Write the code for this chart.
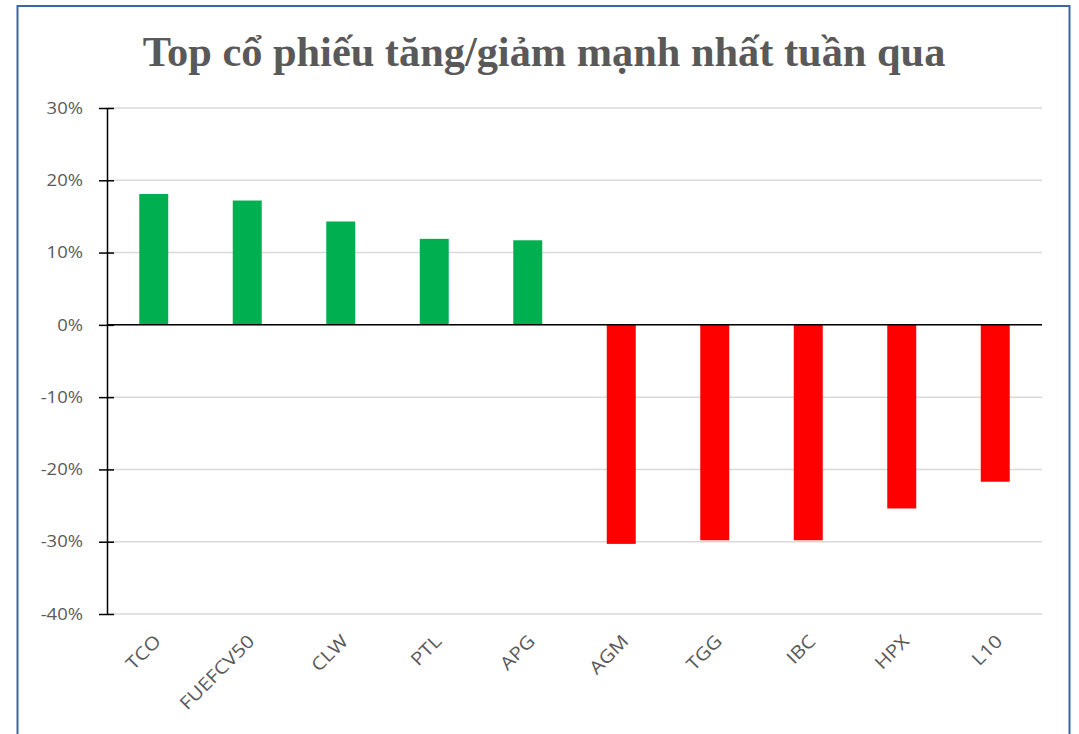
<!DOCTYPE html>
<html>
<head>
<meta charset="utf-8">
<script src="https://cdn.jsdelivr.net/npm/d3@7"></script>
<style>
  body { margin: 0; background: #fff; }
  svg { display: block; }
</style>
</head>
<body>
<div id="chart"></div>
<script>
const title = "Top cổ phiếu tăng/giảm mạnh nhất tuần qua";
const tickers = ["TCO", "FUEFCV50", "CLW", "PTL", "APG", "AGM", "TGG", "IBC", "HPX", "L10"];
const changes = [0.181, 0.172, 0.143, 0.119, 0.117, -0.303, -0.298, -0.298, -0.254, -0.217];
const yTicks = [0.3, 0.2, 0.1, 0, -0.1, -0.2, -0.3, -0.4];

const width = 1079;
const height = 734;
const margin = { top: 108, right: 37, bottom: 120, left: 107 };
// the sans labels in the picture are wide, so stretch them a bit
const yStretch = 1.12;
const xStretch = 1.15;

const svg = d3
  .select("#chart")
  .append("svg")
  .attr("width", width)
  .attr("height", height);

// frame around the chart
svg
  .append("rect")
  .attr("x", 17.5)
  .attr("y", 6)
  .attr("width", 1052)
  .attr("height", 740)
  .attr("fill", "none")
  .attr("stroke", "#3c66a3")
  .attr("stroke-width", 2);

const x = d3
  .scaleBand()
  .domain(tickers)
  .range([margin.left, width - margin.right])
  .paddingInner(0.69)
  .paddingOuter(0.345);

const y = d3
  .scaleLinear()
  .domain([-0.4, 0.3])
  .range([614, 108]);

// title, fitted to the width it takes in the picture
const titleText = svg
  .append("text")
  .attr("x", 544)
  .attr("y", 66)
  .attr("text-anchor", "middle")
  .attr("font-family", "'Liberation Serif', 'Times New Roman', serif")
  .attr("font-weight", "bold")
  .attr("font-size", 44)
  .attr("fill", "#595959")
  .text(title);
const tw = titleText.node().getComputedTextLength();
titleText.attr("font-size", 44 * 803 / tw);

// gridlines
svg
  .append("g")
  .selectAll("line")
  .data(yTicks)
  .join("line")
  .attr("x1", margin.left)
  .attr("x2", 1042)
  .attr("y1", d => y(d))
  .attr("y2", d => y(d))
  .attr("stroke", "#d9d9d9")
  .attr("stroke-width", 1.5);

// bars
svg
  .append("g")
  .selectAll("rect")
  .data(tickers)
  .join("rect")
  .attr("x", d => x(d))
  .attr("width", x.bandwidth())
  .attr("y", (d, i) => y(Math.max(0, changes[i])))
  .attr("height", (d, i) => Math.abs(y(changes[i]) - y(0)))
  .attr("fill", (d, i) => (changes[i] >= 0 ? "#00b050" : "#ff0000"));

// y axis
const pct = d => Math.round(d * 100) + "%";
const yAxis = svg
  .append("g")
  .attr("transform", `translate(${margin.left},0)`)
  .call(
    d3
      .axisLeft(y)
      .tickValues(yTicks)
      .tickFormat(pct)
      .tickSize(0)
      .tickPadding(24)
  );
yAxis.select(".domain").attr("stroke", "#000").attr("stroke-width", 1.5);
yAxis
  .selectAll(".tick text")
  .attr("font-family", "'Open Sans', sans-serif")
  .attr("font-size", 16.5)
  .attr("fill", "#595959")
  .attr("x", -24 / yStretch)
  .attr("transform", `scale(${yStretch},1)`);
yAxis
  .selectAll(".tick")
  .append("line")
  .attr("x1", -8)
  .attr("x2", 7)
  .attr("stroke", "#000")
  .attr("stroke-width", 1.5);

// zero line
svg
  .append("line")
  .attr("x1", margin.left)
  .attr("x2", 1042)
  .attr("y1", y(0))
  .attr("y2", y(0))
  .attr("stroke", "#000")
  .attr("stroke-width", 1.5);

// category labels, rotated
svg
  .append("g")
  .selectAll("text")
  .data(tickers)
  .join("text")
  .attr("transform", d => `translate(${x(d) + x.bandwidth() / 2 + 4},638) rotate(-45) scale(${xStretch},1)`)
  .attr("text-anchor", "end")
  .attr("dy", "0.35em")
  .attr("font-family", "'Open Sans', sans-serif")
  .attr("font-size", 18)
  .attr("fill", "#595959")
  .text(d => d);
</script>
</body>
</html>
